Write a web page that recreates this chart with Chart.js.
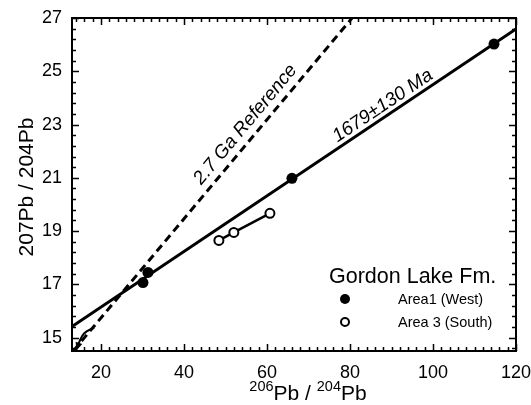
<!DOCTYPE html>
<html>
<head>
<meta charset="utf-8">
<script src="https://cdn.jsdelivr.net/npm/chart.js@4.4.1/dist/chart.umd.min.js"></script>
<style>
    html, body { margin: 0; padding: 0; background: #fff; }
    #wrap { width: 531px; height: 405px; position: relative; }
</style>
</head>
<body>
<div id="wrap"><canvas id="pbChart"></canvas></div>
<script>
// ─── DATA ───
const area1West = [{ x: 30.1, y: 17.07 }, { x: 31.3, y: 17.45 }, { x: 66.0, y: 20.98 }, { x: 114.7, y: 26.02 }];
const area3South = [{ x: 48.4, y: 18.65 }, { x: 52.0, y: 18.95 }, { x: 60.7, y: 19.67 }];
const isochron1679 = [{ x: 13, y: 15.42 }, { x: 120, y: 26.59 }];
const reference27Ga = [{ x: 13.3, y: 14.5 }, { x: 80.5, y: 27 }];
const growthCurve = [{ x: 18.35, y: 15.38 }, { x: 15.9, y: 15.16 }, { x: 14.7, y: 14.82 }, { x: 14.3, y: 14.63 }];

const xTicks = [20, 40, 60, 80, 100, 120];
const yTicks = [15, 17, 19, 21, 23, 25, 27];
const xRange = [13, 120];
const yRange = [14.5, 27];
const xMinorStep = 2;
const yMinorStep = 0.4;

const isochronLabel = { text: '1679\u00b1130 Ma', x: 87.9, y: 23.7 };
const referenceLabel = { text: '2.7 Ga Reference', x: 54.8, y: 23.0 };
const legendTitle = 'Gordon Lake Fm.';
const legendItems = ['Area1 (West)', 'Area 3 (South)'];

const FONT = '"Liberation Sans", Arial, Helvetica, sans-serif';

(function () {
    'use strict';

    // ─── FRAME + INWARD TICKS ───
    const framePlugin = {
        id: 'frame',
        afterDraw(chart) {
            const { ctx, chartArea: a, scales: { x, y } } = chart;
            ctx.save();
            ctx.strokeStyle = '#000';
            ctx.lineWidth = 2;
            ctx.strokeRect(a.left, a.top, a.right - a.left, a.bottom - a.top);
            ctx.lineWidth = 1.5;
            ctx.beginPath();
            for (let v = 14; v <= xRange[1]; v += xMinorStep) {
                const px = Math.round(x.getPixelForValue(v)) + 0.5;
                const len = xTicks.includes(v) ? 7 : 4;
                ctx.moveTo(px, a.bottom); ctx.lineTo(px, a.bottom - len);
                ctx.moveTo(px, a.top); ctx.lineTo(px, a.top + len);
            }
            for (let i = 0; ; i++) {
                const v = +(yTicks[0] - yMinorStep + i * yMinorStep).toFixed(2);
                if (v > yRange[1] + 0.01) break;
                if (v < yRange[0]) continue;
                const py = Math.round(y.getPixelForValue(v)) + 0.5;
                const len = yTicks.some(t => Math.abs(t - v) < 0.01) ? 7 : 4;
                ctx.moveTo(a.left, py); ctx.lineTo(a.left + len, py);
                ctx.moveTo(a.right, py); ctx.lineTo(a.right - len, py);
            }
            ctx.stroke();

            // axis titles
            ctx.fillStyle = '#000';
            ctx.textBaseline = 'alphabetic';
            ctx.save();
            ctx.translate(33, 187);
            ctx.rotate(-Math.PI / 2);
            ctx.textAlign = 'center';
            ctx.font = '21px ' + FONT;
            ctx.fillText('207Pb / 204Pb', 0, 0);
            ctx.restore();

            const parts = [['206', 1], ['Pb / ', 0], ['204', 1], ['Pb', 0]];
            const big = '21px ' + FONT, small = '14.5px ' + FONT;
            let w = 0;
            parts.forEach(([t, sup]) => { ctx.font = sup ? small : big; w += ctx.measureText(t).width; });
            let cx = 308 - w / 2;
            const base = 400;
            ctx.textAlign = 'left';
            parts.forEach(([t, sup]) => {
                ctx.font = sup ? small : big;
                ctx.fillText(t, cx, sup ? base - 9 : base);
                cx += ctx.measureText(t).width;
            });
            ctx.restore();
        }
    };

    // ─── LINE LABELS, ARROWHEAD, LEGEND ───
    const annotatePlugin = {
        id: 'annotate',
        afterDatasetsDraw(chart) {
            const { ctx, scales: { x, y } } = chart;
            const angleOf = pts => Math.atan2(
                y.getPixelForValue(pts[1].y) - y.getPixelForValue(pts[0].y),
                x.getPixelForValue(pts[1].x) - x.getPixelForValue(pts[0].x));

            ctx.save();
            ctx.fillStyle = '#000';
            ctx.font = 'italic 19px ' + FONT;
            ctx.textAlign = 'center';
            ctx.textBaseline = 'middle';
            [[referenceLabel, reference27Ga], [isochronLabel, isochron1679]].forEach(([lab, line]) => {
                ctx.save();
                ctx.translate(x.getPixelForValue(lab.x), y.getPixelForValue(lab.y));
                ctx.rotate(angleOf(line));
                ctx.fillText(lab.text, 0, 0);
                ctx.restore();
            });

            // arrowhead at end of growth curve
            const n = growthCurve.length;
            const p1 = growthCurve[n - 2], p2 = growthCurve[n - 1];
            const ex = x.getPixelForValue(p2.x), ey = y.getPixelForValue(p2.y);
            const ang = Math.atan2(ey - y.getPixelForValue(p1.y), ex - x.getPixelForValue(p1.x));
            ctx.save();
            ctx.translate(ex, ey);
            ctx.rotate(ang);
            ctx.beginPath();
            ctx.moveTo(3, 0); ctx.lineTo(-5, -3.5); ctx.lineTo(-5, 3.5); ctx.closePath();
            ctx.fill();
            ctx.restore();

            // legend
            ctx.textAlign = 'left';
            ctx.textBaseline = 'alphabetic';
            ctx.font = '21.5px ' + FONT;
            ctx.fillText(legendTitle, 329, 283);
            ctx.font = '14.5px ' + FONT;
            ctx.fillText(legendItems[0], 398, 304);
            ctx.fillText(legendItems[1], 398, 327);
            ctx.beginPath();
            ctx.arc(345, 299, 5, 0, Math.PI * 2);
            ctx.fill();
            ctx.beginPath();
            ctx.arc(345, 322, 4, 0, Math.PI * 2);
            ctx.lineWidth = 2;
            ctx.strokeStyle = '#000';
            ctx.stroke();
            ctx.restore();
        }
    };

    const ctx = document.getElementById('pbChart');
    new Chart(ctx, {
        type: 'scatter',
        data: {
            datasets: [
                { label: 'Area1 (West)', data: area1West, showLine: false, pointRadius: 5.5, pointBackgroundColor: '#000', pointBorderColor: '#000', pointBorderWidth: 0 },
                { label: 'Area 3 (South)', data: area3South, showLine: true, borderColor: '#000', borderWidth: 2.5, pointRadius: 4.5, pointBackgroundColor: '#fff', pointBorderColor: '#000', pointBorderWidth: 2 },
                { label: '1679±130 Ma', data: isochron1679, showLine: true, borderColor: '#000', borderWidth: 3, pointRadius: 0 },
                { label: '2.7 Ga Reference', data: reference27Ga, showLine: true, borderColor: '#000', borderWidth: 3, borderDash: [8, 5], pointRadius: 0 },
                { label: 'growth', data: growthCurve, showLine: true, borderColor: '#000', borderWidth: 2, tension: 0.4, pointRadius: 0 }
            ]
        },
        options: {
            responsive: true,
            maintainAspectRatio: false,
            animation: false,
            layout: { padding: { left: 0, right: 15, top: 18, bottom: 0 } },
            plugins: { legend: { display: false }, tooltip: { enabled: false } },
            scales: {
                x: {
                    type: 'linear', min: xRange[0], max: xRange[1],
                    grid: { display: false, drawTicks: false }, border: { display: false },
                    afterBuildTicks: s => { s.ticks = xTicks.map(v => ({ value: v })); },
                    afterFit: s => { s.height = 54; s.paddingLeft = 0; s.paddingRight = 0; },
                    ticks: { color: '#000', padding: 11, maxRotation: 0, font: { family: FONT, size: 18 } }
                },
                y: {
                    type: 'linear', min: yRange[0], max: yRange[1],
                    grid: { display: false, drawTicks: false }, border: { display: false },
                    afterBuildTicks: s => { s.ticks = yTicks.map(v => ({ value: v })); },
                    afterFit: s => { s.width = 72; s.paddingTop = 0; s.paddingBottom = 0; },
                    ticks: { color: '#000', padding: 10, font: { family: FONT, size: 18 } }
                }
            }
        },
        plugins: [framePlugin, annotatePlugin]
    });
})();
</script>
</body>
</html>
